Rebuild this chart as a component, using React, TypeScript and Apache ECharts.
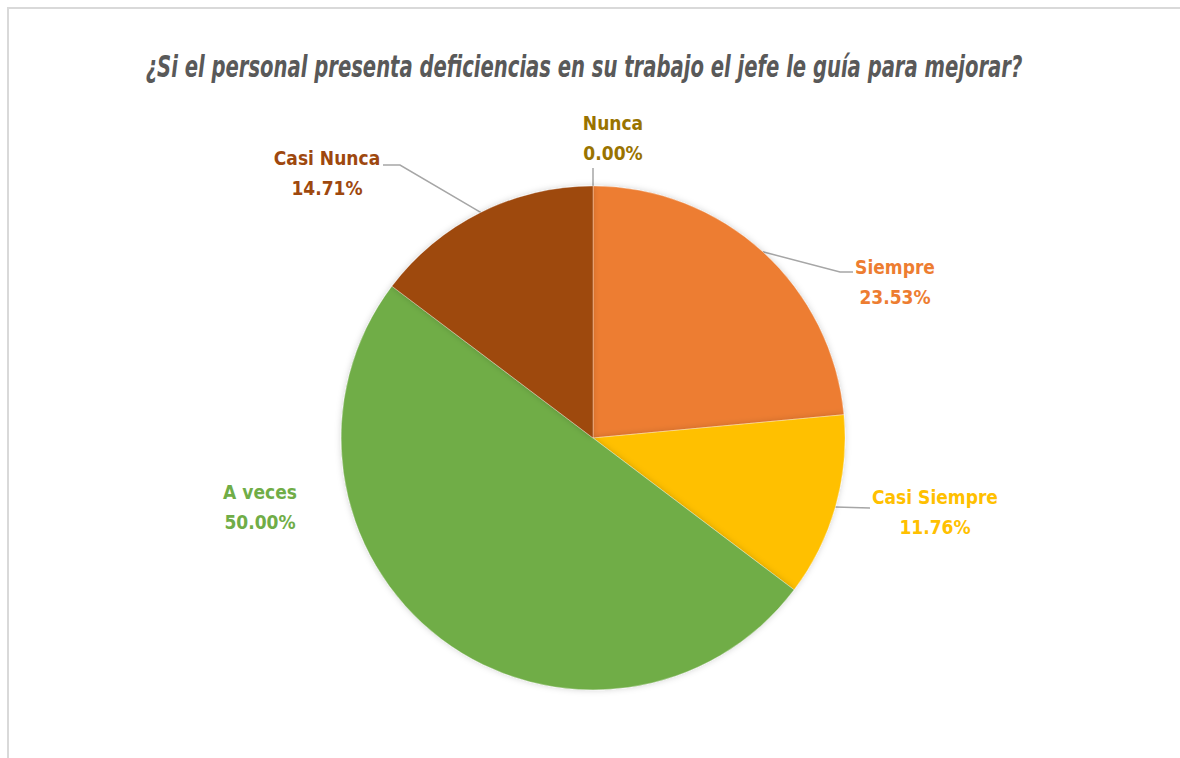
import React, { useEffect, useRef } from "react";
import * as echarts from "echarts";

const chartTitle = "¿Si el personal presenta deficiencias en su trabajo el jefe le guía para mejorar?";
const categories = ["Siempre", "Casi Siempre", "A veces", "Casi Nunca", "Nunca"];
const counts = [8, 4, 17, 5, 0];
const sliceColors = ["#ED7D31", "#FFC000", "#70AD47", "#9E480E", "#9E480E"];
const labelColors = ["#ED7D31", "#FFC000", "#70AD47", "#9E480E", "#997300"];

// label layout (pixel positions of label blocks and leader-line bends)
const CX = 593;
const CY = 438;
const R = 252;
const labelPos = [
  [895, 282],
  [935, 512],
  [260, 507],
  [327, 173],
  [613, 138],
];
const lineBends: (number[][] | null)[] = [
  [[840, 272], [853, 272]],
  [[870, 508]],
  null,
  [[400, 165], [383, 165]],
  [[593, 168]],
];

const FONT = "'DejaVu Sans Condensed', 'Liberation Sans Narrow', sans-serif";

export default function App() {
  const ref = useRef<HTMLDivElement>(null);

  useEffect(() => {
    if (!ref.current) return;
    const chart = echarts.init(ref.current, null, { renderer: "svg" });
    const total = counts.reduce((a, b) => a + b, 0);

    const midAngles: number[] = [];
    let acc = 0;
    counts.forEach((v) => {
      const startDeg = 90 - (acc / total) * 360;
      const endDeg = 90 - ((acc + v) / total) * 360;
      midAngles.push((((startDeg + endDeg) / 2) * Math.PI) / 180);
      acc += v;
    });

    chart.setOption({
      animation: false,
      graphic: [
        {
          type: "text",
          x: 584,
          y: 67,
          scaleX: 0.726,
          style: {
            text: chartTitle,
            font: `italic bold 30px ${FONT}`,
            fill: "#595959",
            align: "center",
            verticalAlign: "middle",
          },
        },
      ],
      series: [
        {
          type: "pie",
          center: [CX, CY],
          radius: R,
          startAngle: 90,
          clockwise: true,
          minShowLabelAngle: -1,
          data: categories.map((name, i) => ({
            name,
            value: counts[i],
            itemStyle: { color: sliceColors[i] },
            label: { color: labelColors[i] },
            labelLine: { show: lineBends[i] !== null },
          })),
          itemStyle: {
            borderColor: "rgba(255,255,255,0.6)",
            borderWidth: 0.5,
            shadowBlur: 6,
            shadowColor: "rgba(0,0,0,0.18)",
          },
          label: {
            show: true,
            position: "outside",
            formatter: (p: any) => `${p.name}\n${((p.value / total) * 100).toFixed(2)}%`,
            fontFamily: FONT,
            fontWeight: "bold",
            fontSize: 19,
            lineHeight: 30,
            align: "center",
          },
          labelLine: {
            show: true,
            lineStyle: { color: "#A6A6A6", width: 1.5 },
          },
          labelLayout: (params: any) => {
            const i = params.dataIndex;
            const a = midAngles[i];
            const start = [CX + R * Math.cos(a), CY - R * Math.sin(a)];
            const bends = lineBends[i];
            const out: any = {
              x: labelPos[i][0],
              y: labelPos[i][1],
              align: "center",
              verticalAlign: "middle",
            };
            if (bends) out.labelLinePoints = [start, ...bends];
            return out;
          },
          emphasis: { disabled: true },
        },
      ],
    });
    return () => chart.dispose();
  }, []);

  return (
    <div style={{ position: "fixed", left: 0, top: 0, width: 1180, height: 758, overflow: "hidden", background: "#fff" }}>
      <div
        style={{
          position: "absolute",
          left: 7,
          top: 7,
          width: 1200,
          height: 800,
          borderTop: "2px solid #D9D9D9",
          borderLeft: "2px solid #D9D9D9",
        }}
      />
      <div ref={ref} style={{ position: "absolute", left: 0, top: 0, width: 1180, height: 758 }} />
    </div>
  );
}
